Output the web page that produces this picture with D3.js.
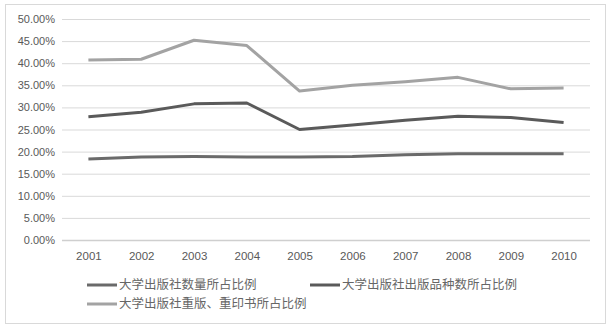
<!DOCTYPE html>
<html>
	<head>
		<style>
			body, html { margin: 0; padding: 0; background: #fff; }
			#svg { display: block; }
		</style>
	</head>
	<body>
		<svg id="svg" width="613" height="331"></svg>
		<script src="https://d3js.org/d3.v7.min.js"></script>
		<script>
			const years = ['2001', '2002', '2003', '2004', '2005', '2006', '2007', '2008', '2009', '2010'];
			const pressCount = [18.3, 18.8, 18.9, 18.8, 18.8, 18.9, 19.3, 19.5, 19.5, 19.5];
			const titleCount = [27.9, 28.9, 30.8, 31.0, 25.0, 26.0, 27.1, 28.0, 27.7, 26.6];
			const reprintCount = [40.7, 40.9, 45.2, 44.0, 33.7, 35.0, 35.8, 36.8, 34.2, 34.4];
			const seriesNames = ['大学出版社数量所占比例', '大学出版社出版品种数所占比例', '大学出版社重版、重印书所占比例'];
			const yTicks = [0, 5, 10, 15, 20, 25, 30, 35, 40, 45, 50];

			const series = [
				{ name: seriesNames[0], values: pressCount, color: '#6a6a6a', width: 3 },
				{ name: seriesNames[1], values: titleCount, color: '#5a5a5a', width: 3 },
				{ name: seriesNames[2], values: reprintCount, color: '#a3a3a3', width: 3 }
			];

			const svg = d3.select('#svg');

			// outer chart frame
			svg.append('rect')
				.attr('x', 5.5).attr('y', 4.5)
				.attr('width', 600).attr('height', 319)
				.attr('fill', '#fff').attr('stroke', '#d9d9d9');

			const xscale = d3.scalePoint().domain(years).range([62, 590]).padding(0.5);
			const yscale = d3.scaleLinear().domain([0, 50]).range([240, 19]);

			// grid + y labels
			const leftAxis = d3.axisLeft(yscale)
				.tickValues(yTicks)
				.tickSize(-(590 - 62))
				.tickPadding(7)
				.tickFormat((d) => d.toFixed(2) + '%');
			const gy = svg.append('g').attr('transform', 'translate(62,0)').call(leftAxis);
			gy.select('.domain').remove();
			gy.selectAll('line').attr('stroke', '#d9d9d9').attr('stroke-width', 1);
			gy.selectAll('text')
				.attr('fill', '#595959')
				.style('font-family', 'Liberation Sans, Arial, sans-serif')
				.style('font-size', '11px');
			gy.select('.tick:first-of-type line').attr('stroke', '#cfcfcf').attr('stroke-width', 1.5);

			// x labels
			const bottomAxis = d3.axisBottom(xscale).tickSize(0).tickPadding(12);
			const gx = svg.append('g').attr('transform', 'translate(0,240)').call(bottomAxis);
			gx.select('.domain').remove();
			gx.selectAll('text')
				.attr('fill', '#595959')
				.style('font-family', 'Liberation Sans, Arial, sans-serif')
				.style('font-size', '11.5px');

			const linegen = d3.line()
				.x((d, i) => xscale(years[i]))
				.y((d) => yscale(d));

			series.forEach((s) => {
				svg.append('path')
					.attr('d', linegen(s.values))
					.attr('fill', 'none')
					.attr('stroke', s.color)
					.attr('stroke-width', s.width)
					.attr('stroke-linejoin', 'round');
			});

			// legend
			const legendPos = [[87, 285], [310, 285], [87, 304]];
			series.forEach((s, i) => {
				const g = svg.append('g').attr('transform', `translate(${legendPos[i][0]},${legendPos[i][1]})`);
				g.append('line')
					.attr('x1', 0).attr('x2', 30)
					.attr('y1', 0).attr('y2', 0)
					.attr('stroke', s.color).attr('stroke-width', 3);
				g.append('text')
					.attr('x', 32).attr('y', 0)
					.attr('dy', '0.35em')
					.attr('fill', '#666')
					.style('font-family', 'Noto Sans CJK SC, sans-serif')
					.style('font-size', '12.5px')
					.text(s.name);
			});
		</script>
	</body>
</html>
